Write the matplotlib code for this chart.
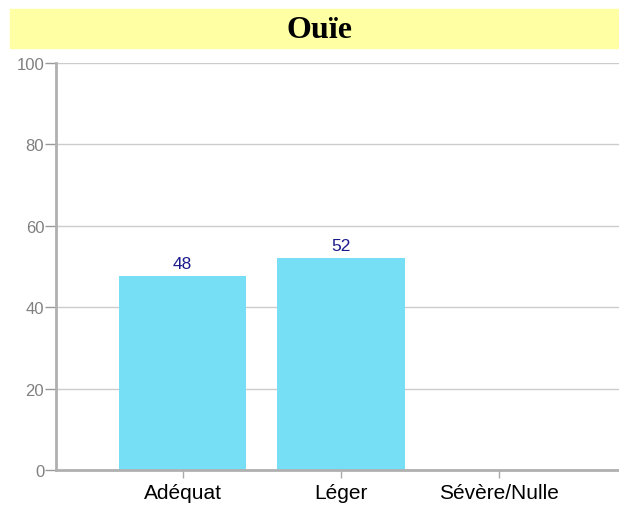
import matplotlib.pyplot as plt
from matplotlib.patches import Rectangle

categories = ['Adéquat', 'Léger', 'Sévère/Nulle']
values = [47.6, 52.0, 0]
labels = ['48', '52', '']
yticks = [0, 20, 40, 60, 80, 100]

fig = plt.figure(figsize=(6.19, 5.06), dpi=100)
fig.patches.append(Rectangle((10 / 619, 1 - 49 / 506), 1 - 10 / 619, 39 / 506,
                             transform=fig.transFigure, color='#FFFFA3', zorder=0))
fig.text(320 / 619, 1 - 31 / 506, 'Ouïe', ha='center', va='center',
         fontsize=23, fontweight='bold', family='Liberation Serif')

ax = fig.add_axes([56 / 619, 1 - 471 / 506, 1 - 56 / 619, 407 / 506])
x = list(range(len(categories)))
bars = ax.bar(x, values, width=0.804, color='#76DFF5', zorder=2)
for xi, v, lab in zip(x, values, labels):
    if lab:
        ax.annotate(lab, (xi, v), xytext=(0, 6), textcoords='offset points',
                    ha='center', va='baseline', color='#1A1A8C',
                    fontsize=12.5, family='Liberation Sans')

ax.set_xlim(-0.80, 2.756)
ax.set_ylim(0, 100)
ax.set_yticks(yticks)
ax.set_xticks(x)
ax.set_xticklabels(categories, fontsize=15, family='Liberation Sans', color='black')
for t in ax.get_yticklabels():
    t.set_fontsize(12)
    t.set_family('Liberation Sans')
    t.set_color('#808080')
ax.tick_params(axis='y', length=8, width=1, color='#999999', pad=0.5)
ax.tick_params(axis='x', length=6, width=1, color='#AAAAAA', pad=3.5, direction='out')
ax.grid(axis='y', color='#CCCCCC', linewidth=1, zorder=0)
for s in ['top', 'right']:
    ax.spines[s].set_visible(False)
for s in ['left', 'bottom']:
    ax.spines[s].set_color('#B0B0B0')
    ax.spines[s].set_linewidth(2)

fig.savefig('out.png', dpi=100)
